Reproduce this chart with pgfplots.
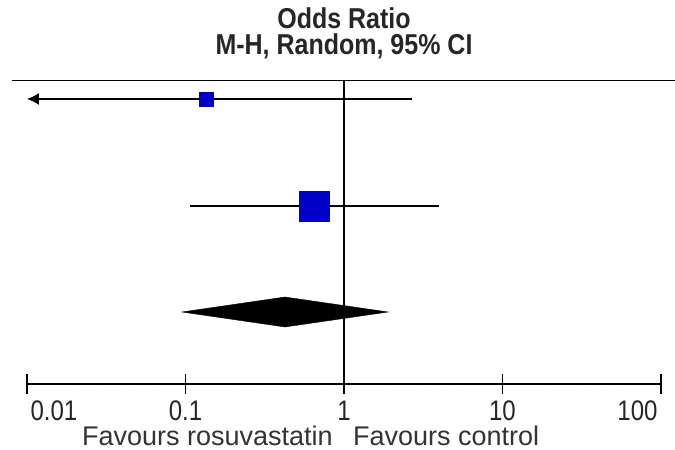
\documentclass[border=0pt]{standalone}
\usepackage{pgfplots}
\pgfplotsset{compat=1.18}
\usepackage{fontspec}
\setmainfont{Liberation Sans}
\usetikzlibrary{arrows.meta}
\definecolor{sqblue}{RGB}{0,0,200}
\begin{document}
\begin{tikzpicture}[x=1pt,y=1pt]
\begin{axis}[
  at={(27pt,66pt)}, anchor=south west,
  scale only axis, width=634pt, height=304pt,
  xmode=log, xmin=0.01, xmax=100, ymin=66, ymax=370,
  axis x line*=bottom, axis y line=none,
  axis line style={line width=1.5pt, -},
  xtick={0.01,0.1,1,10,100},
  xticklabels={},
  tick align=center, major tick length=20pt,
  tick style={line width=1.5pt, black},
  ytick=\empty,
  clip=false,
]
% top rule and line of no effect
\addplot[line width=1.5pt] coordinates {(0.00804,369.5) (122,369.5)};
\addplot[line width=1.5pt] coordinates {(1,66) (1,369.5)};
% study 1
\addplot[line width=1.3pt, -{Latex[length=12pt,width=12pt]}] coordinates {(2.69,351) (0.01,351)};
\addplot[only marks, mark=square*, mark size=7pt, mark options={fill=sqblue, draw=sqblue}] coordinates {(0.135,351)};
% study 2
\addplot[line width=1.3pt] coordinates {(0.107,244) (3.97,244)};
\addplot[only marks, mark=square*, mark size=15pt, mark options={fill=sqblue, draw=sqblue}] coordinates {(0.647,244)};
% pooled diamond
\addplot[fill=black, draw=black] coordinates {(0.095,138) (0.424,153) (1.90,138) (0.424,123)} -- cycle;
% tick labels
\node[anchor=base west, font=\fontsize{24}{24}\selectfont, text=black!85] at (axis cs:0.01,30) {\scalebox{1}[1.18]{0.01}};
\node[anchor=base, font=\fontsize{24}{24}\selectfont, text=black!85] at (axis cs:0.1,30) {\scalebox{1}[1.18]{0.1}};
\node[anchor=base, font=\fontsize{24}{24}\selectfont, text=black!85] at (axis cs:1,30) {\scalebox{1}[1.18]{1}};
\node[anchor=base, font=\fontsize{24}{24}\selectfont, text=black!85] at (axis cs:10,30) {\scalebox{1}[1.18]{10}};
\node[anchor=base east, font=\fontsize{24}{24}\selectfont, text=black!85] at (axis cs:100,30) {\scalebox{1}[1.18]{100}};
% titles
\node[inner sep=0pt, font=\bfseries\fontsize{25}{25}\selectfont, text=black!85] at (axis cs:1,432) {\scalebox{1}[1.15]{Odds Ratio}};
\node[inner sep=0pt, font=\bfseries\fontsize{25}{25}\selectfont, text=black!85] at (axis cs:1,404) {\scalebox{1}[1.15]{M-H, Random, 95\% CI}};
\node[inner sep=0pt, anchor=base east, font=\fontsize{27}{27}\selectfont, text=black!80] at (axis cs:0.852,5) {Favours rosuvastatin};
\node[inner sep=0pt, anchor=base west, font=\fontsize{27}{27}\selectfont, text=black!80] at (axis cs:1.139,5) {Favours control};
\end{axis}
\pgfresetboundingbox
\path[use as bounding box] (0,0) rectangle (675pt,450pt);
\end{tikzpicture}
\end{document}
